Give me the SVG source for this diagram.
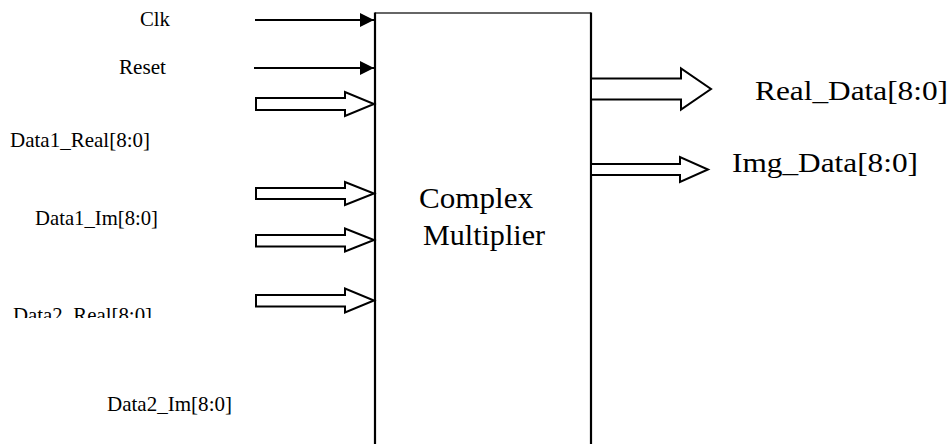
<svg xmlns="http://www.w3.org/2000/svg" width="952" height="444" viewBox="0 0 952 444" font-family="'Liberation Serif', 'Times New Roman', Times, serif">
<style>
text{font-family:'Liberation Serif','Times New Roman',Times,serif;fill:#000}
.sm{font-size:20px}
.md{font-size:22px}
.lg{font-size:28px}
.xl{font-size:30px}
.wire{stroke:#000;stroke-width:2;fill:none}
.bus{stroke:#000;stroke-width:2;fill:#fff;stroke-linejoin:miter}
</style>
<defs>
<marker id="tri" viewBox="0 0 14 14" refX="14" refY="7" markerWidth="14" markerHeight="14" markerUnits="userSpaceOnUse" orient="auto">
<path d="M0,0 L14,7 L0,14 Z" fill="#000"/>
</marker>
<clipPath id="clipD2"><rect x="0" y="280" width="370" height="38"/></clipPath>
</defs>
<rect width="952" height="444" fill="#fff"/>
<g id="multiplier">
<line x1="375" y1="13" x2="591" y2="13" stroke="#333" stroke-width="1.5"/>
<path d="M375,444 L375,12.5 M591,12.5 L591,444" fill="none" stroke="#000" stroke-width="2.2"/>
<text class="xl" x="419" y="208" textLength="114" lengthAdjust="spacingAndGlyphs">Complex</text>
<text class="xl" x="423" y="245" textLength="122" lengthAdjust="spacingAndGlyphs">Multiplier</text>
</g>
<g id="labels">
<text class="sm" x="140" y="26" textLength="30" lengthAdjust="spacingAndGlyphs">Clk</text>
<text class="sm" x="119" y="74" textLength="47" lengthAdjust="spacingAndGlyphs">Reset</text>
<text class="md" x="10" y="147" textLength="140" lengthAdjust="spacingAndGlyphs">Data1_Real[8:0]</text>
<text class="md" x="35" y="225" textLength="123" lengthAdjust="spacingAndGlyphs">Data1_Im[8:0]</text>
<g clip-path="url(#clipD2)"><text class="md" x="13" y="322" textLength="139" lengthAdjust="spacingAndGlyphs">Data2_Real[8:0]</text></g>
<text class="md" x="107" y="411" textLength="125" lengthAdjust="spacingAndGlyphs">Data2_Im[8:0]</text>
<text class="lg" x="755" y="100" textLength="193" lengthAdjust="spacingAndGlyphs">Real_Data[8:0]</text>
<text class="lg" x="732" y="172" textLength="186" lengthAdjust="spacingAndGlyphs">Img_Data[8:0]</text>
</g>
<g id="connectors">
<line class="wire" x1="255" y1="20" x2="374" y2="20" marker-end="url(#tri)"/>
<line class="wire" x1="254" y1="68" x2="374" y2="68" marker-end="url(#tri)"/>
<path class="bus" d="M256,98 L345,98 L345,92 L374,104 L345,116 L345,110 L256,110 Z"/>
<path class="bus" d="M256,188 L345,188 L345,182 L374,193.5 L345,205 L345,199 L256,199 Z"/>
<path class="bus" d="M256,235 L345,235 L345,228.5 L374,240 L345,251.5 L345,246.5 L256,246.5 Z"/>
<path class="bus" d="M256,295 L345,295 L345,288.5 L374,300.5 L345,312.5 L345,306.5 L256,306.5 Z"/>
<path class="bus" d="M592,78.5 L681,78.5 L681,68.5 L711,89 L681,109.5 L681,99.5 L592,99.5"/>
<path class="bus" d="M592,164 L680,164 L680,157 L708,169.5 L680,182 L680,175 L592,175"/>
</g>
</svg>
